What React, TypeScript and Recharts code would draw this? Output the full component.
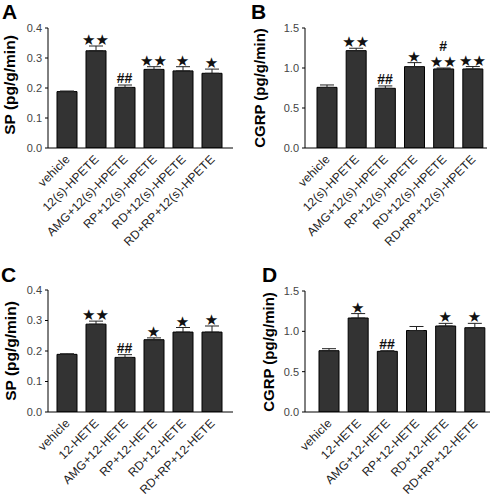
import React from "react";
import { ComposedChart, Bar, ErrorBar, Line, XAxis, YAxis } from "recharts";

// ---- Data ----
const catsHPETE = ["vehicle", "12(s)-HPETE", "AMG+12(s)-HPETE", "RP+12(s)-HPETE", "RD+12(s)-HPETE", "RD+RP+12(s)-HPETE"];
const catsHETE = ["vehicle", "12-HETE", "AMG+12-HETE", "RP+12-HETE", "RD+12-HETE", "RD+RP+12-HETE"];

const spA = [0.188, 0.324, 0.202, 0.262, 0.257, 0.249];
const spAErr = [0.002, 0.016, 0.008, 0.009, 0.014, 0.014];
const sigA = ["", "★★", "##", "★★", "★", "★"];
const sigA2 = ["", "", "", "", "", ""];

const cgrpB = [0.758, 1.217, 0.746, 1.017, 0.988, 0.988];
const cgrpBErr = [0.03, 0.03, 0.03, 0.05, 0.012, 0.03];
const sigB = ["", "★★", "##", "★", "★★", "★★"];
const sigB2 = ["", "", "", "", "#", ""];

const spC = [0.189, 0.288, 0.179, 0.237, 0.262, 0.262];
const spCErr = [0.002, 0.01, 0.009, 0.006, 0.015, 0.02];
const sigC = ["", "★★", "##", "★", "★", "★"];
const sigC2 = ["", "", "", "", "", ""];

const cgrpD = [0.76, 1.165, 0.752, 1.01, 1.066, 1.045];
const cgrpDErr = [0.025, 0.055, 0.008, 0.05, 0.033, 0.054];
const sigD = ["", "★", "##", "", "★", "★"];
const sigD2 = ["", "", "", "", "", ""];

const spTicks = [0, 0.1, 0.2, 0.3, 0.4];
const cgrpTicks = [0, 0.5, 1.0, 1.5];

const FONT = "'Liberation Sans', Arial, Helvetica, sans-serif";

function buildRows(cats: string[], vals: number[], errs: number[], s1: string[], s2: string[]) {
  return cats.map((c, i) => ({
    name: c,
    value: vals[i],
    err: [0, errs[i]],
    top: vals[i] + errs[i],
    sig: s1[i],
    sig2: s2[i],
  }));
}

const XTick = (props: any) => {
  const { x, y, payload } = props;
  return (
    <text
      transform={`translate(${x + 4},${y + 10}) rotate(-45)`}
      textAnchor="end"
      fontSize={12}
      letterSpacing={0.2}
      fontFamily={FONT}
      fill="#222"
    >
      {payload.value}
    </text>
  );
};

const SigDot = (props: any) => {
  const { cx, cy, payload, index } = props;
  if (cx == null || cy == null) return <g key={`s${index}`} />;
  const isHash = (t: string) => t.indexOf("#") >= 0;
  const renderTxt = (t: string, yy: number, k: string) =>
    t ? (
      <text
        key={k}
        x={cx}
        y={isHash(t) ? yy - 1 : yy}
        textAnchor="middle"
        fontSize={isHash(t) ? 14 : 15}
        fontWeight={isHash(t) ? "bold" : "normal"}
        fontFamily={isHash(t) ? FONT : "'DejaVu Sans', sans-serif"}
        fill="#111"
      >
        {t}
      </text>
    ) : null;
  return (
    <g key={`s${index}`}>
      {renderTxt(payload.sig, cy - 1, "a")}
      {renderTxt(payload.sig2, cy - 16, "b")}
    </g>
  );
};

type PanelProps = {
  rows: any[];
  ticks: number[];
  max: number;
  left: number;
  top: number;
  yWidth: number;
  mTop: number;
  mRight: number;
  xHeight: number;
  padL: number;
  padR: number;
};

const Panel = (p: PanelProps) => (
  <div style={{ position: "absolute", left: p.left, top: p.top }}>
    <ComposedChart
      width={250}
      height={250}
      data={p.rows}
      margin={{ top: p.mTop, right: p.mRight, left: 0, bottom: 0 }}
      barCategoryGap={0}
      style={{ overflow: "visible" }}
    >
      <XAxis
        dataKey="name"
        interval={0}
        tickLine={false}
        axisLine={{ stroke: "#000", strokeWidth: 1 }}
        tick={<XTick />}
        height={p.xHeight}
        padding={{ left: p.padL, right: p.padR }}
        tickSize={0}
      />
      <YAxis
        width={p.yWidth}
        domain={[0, p.max]}
        ticks={p.ticks}
        allowDataOverflow
        tickFormatter={(v: number) => v.toFixed(1)}
        tickSize={3}
        tickMargin={3}
        axisLine={{ stroke: "#000", strokeWidth: 1 }}
        tickLine={{ stroke: "#000" }}
        tick={{ fontSize: 11, fontFamily: FONT, fill: "#444" }}
      />
      <Bar dataKey="value" fill="#333333" stroke="#000" strokeWidth={1} barSize={20} isAnimationActive={false}>
        <ErrorBar dataKey="err" width={7} strokeWidth={1} stroke="#222" direction="y" />
      </Bar>
      <Line
        dataKey="top"
        stroke="none"
        dot={<SigDot />}
        activeDot={false}
        isAnimationActive={false}
        legendType="none"
      />
    </ComposedChart>
  </div>
);

const rowsA = buildRows(catsHPETE, spA, spAErr, sigA, sigA2);
const rowsB = buildRows(catsHPETE, cgrpB, cgrpBErr, sigB, sigB2);
const rowsC = buildRows(catsHETE, spC, spCErr, sigC, sigC2);
const rowsD = buildRows(catsHETE, cgrpD, cgrpDErr, sigD, sigD2);

export default function App() {
  return (
    <div style={{ position: "absolute", left: 0, top: 0, width: 500, height: 499, background: "#fff", overflow: "hidden" }}>
      <Panel rows={rowsA} ticks={spTicks} max={0.4} left={0} top={0} yWidth={48} mTop={28} mRight={17} xHeight={102} padL={4} padR={7} />
      <Panel rows={rowsB} ticks={cgrpTicks} max={1.5} left={250} top={0} yWidth={55} mTop={28} mRight={13} xHeight={102} padL={7} padR={0} />
      <Panel rows={rowsC} ticks={spTicks} max={0.4} left={0} top={250} yWidth={48} mTop={40} mRight={17} xHeight={88} padL={4} padR={7} />
      <Panel rows={rowsD} ticks={cgrpTicks} max={1.5} left={250} top={250} yWidth={55} mTop={41} mRight={10} xHeight={88} padL={9} padR={1} />
      <svg width={500} height={499} style={{ position: "absolute", left: 0, top: 0, pointerEvents: "none" }}>
        <g fontFamily={FONT} fontWeight="bold" fill="#000">
          <text x={2} y={19} fontSize={21}>A</text>
          <text x={251} y={19} fontSize={21}>B</text>
          <text x={1} y={282} fontSize={21}>C</text>
          <text x={262} y={282} fontSize={21}>D</text>
          <text transform="translate(9,85) rotate(-90)" textAnchor="middle" dominantBaseline="central" fontSize={15.5}>SP (pg/g/min)</text>
          <text transform="translate(259,88) rotate(-90)" textAnchor="middle" dominantBaseline="central" fontSize={15}>CGRP (pg/g/min)</text>
          <text transform="translate(10,351) rotate(-90)" textAnchor="middle" dominantBaseline="central" fontSize={15.5}>SP (pg/g/min)</text>
          <text transform="translate(268,352) rotate(-90)" textAnchor="middle" dominantBaseline="central" fontSize={15}>CGRP (pg/g/min)</text>
        </g>
      </svg>
    </div>
  );
}
